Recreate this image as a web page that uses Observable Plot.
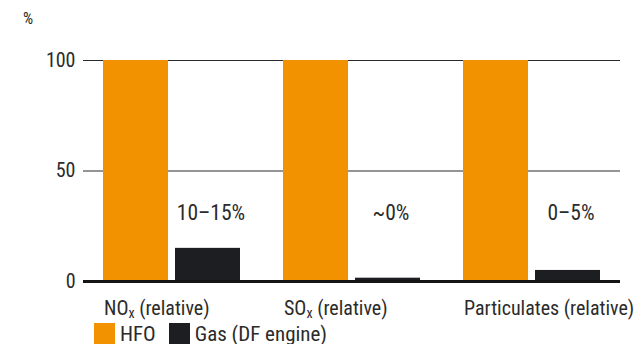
<!DOCTYPE html>
<html><head><meta charset="utf-8">
<script src="https://cdn.jsdelivr.net/npm/d3@7"></script>
<script src="https://cdn.jsdelivr.net/npm/@observablehq/plot@0.6"></script>
<style>
body{margin:0;background:#fff;font-family:"Roboto Condensed","Liberation Sans",sans-serif;color:#2b2b2b;}
#unit{height:30px;position:relative;font-size:16px;}
#unit span{position:absolute;left:23px;top:9px;}
#legend{display:flex;align-items:center;padding-left:94px;padding-top:1px;font-size:21px;line-height:21px;}
.sw{width:21px;height:21px;display:inline-block;margin-right:5px;}
.item{display:flex;align-items:center;margin-right:13px;}
.item .t{position:relative;top:1px;}
</style></head>
<body>
<div id="unit"><span>%</span></div>
<div id="chart"></div>
<div id="legend"></div>
<script>
const categories = ["NOₓ (relative)", "SOₓ (relative)", "Particulates (relative)"];
const hfoValues = [100, 100, 100];
const gasValues = [15, 1.5, 5];
const gasLabels = ["10–15%", "~0%", "0–5%"];
const yTicks = [0, 50, 100];
const seriesNames = ["HFO", "Gas (DF engine)"];
const seriesColors = ["#F39200", "#1D1E22"];

const hfo = categories.map((c, i) => ({cat: c, value: hfoValues[i]}));
const gas = categories.map((c, i) => ({cat: c, value: gasValues[i], label: gasLabels[i]}));

const plot = Plot.plot({
  width: 637,
  height: 292,
  marginTop: 30,
  marginBottom: 41,
  marginLeft: 83,
  marginRight: 17,
  style: {fontFamily: '"Roboto Condensed","Liberation Sans",sans-serif', color: "#2b2b2b", background: "#fff", overflow: "visible"},
  x: {domain: categories, paddingInner: 0.239, paddingOuter: 0.111, label: null},
  y: {domain: [0, 100], label: null},
  marks: [
    Plot.ruleY([50, 100], {stroke: "#2a2a2a", strokeWidth: 1}),
    Plot.barY(hfo, {x: "cat", y: "value", fill: seriesColors[0], insetRight: 72}),
    Plot.barY(gas, {x: "cat", y: "value", fill: seriesColors[1], insetLeft: 72}),
    Plot.ruleY([0], {stroke: "#151515", strokeWidth: 3}),
    Plot.text(gas, {x: "cat", y: () => 31, text: "label", dx: 39, fontSize: 21.5, fill: "#2b2b2b"}),
    Plot.axisY({ticks: yTicks, tickSize: 0, tickPadding: 8, fontSize: 20, label: null}),
    Plot.axisX({tickSize: 0, tickPadding: 19, fontSize: 20, textAnchor: "start", dx: -68, label: null})
  ]
});
document.getElementById("chart").appendChild(plot);

// render the subscript x as a real lowered tspan
plot.querySelectorAll("text").forEach(el => {
  if (el.children.length === 0 && el.textContent.includes("ₓ")) {
    const parts = el.textContent.split("ₓ");
    el.textContent = "";
    const ns = "http://www.w3.org/2000/svg";
    const a = document.createElementNS(ns, "tspan"); a.textContent = parts[0];
    const s = document.createElementNS(ns, "tspan"); s.textContent = "x";
    s.setAttribute("font-size", "14"); s.setAttribute("dy", "3");
    const b = document.createElementNS(ns, "tspan"); b.textContent = parts[1];
    b.setAttribute("dy", "-3");
    el.append(a, s, b);
  }
});

const legend = document.getElementById("legend");
seriesNames.forEach((n, i) => {
  const it = document.createElement("div");
  it.className = "item";
  it.innerHTML = `<span class="sw" style="background:${seriesColors[i]}"></span><span class="t">${n}</span>`;
  legend.appendChild(it);
});
</script>
</body></html>
